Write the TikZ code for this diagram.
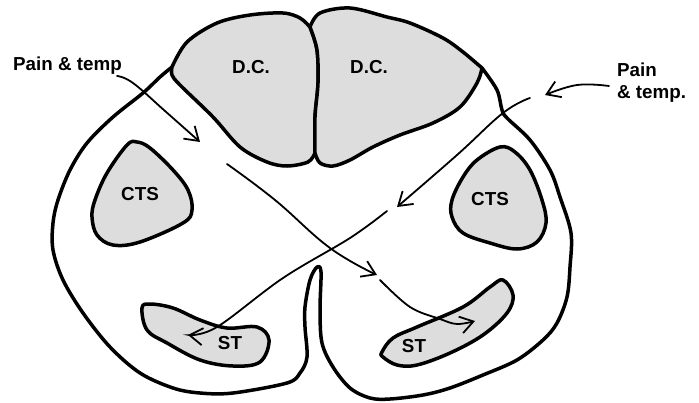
\documentclass[tikz,border=0pt]{standalone}
\usepackage{fontspec}
\setmainfont{Liberation Sans}
\usetikzlibrary{arrows.meta}
\definecolor{tract}{gray}{0.865}
\tikzset{
  contour/.style={draw=black,line width=3.5pt,line join=round,line cap=round},
  region/.style={contour,fill=tract},
  pathway/.style={draw=black,line width=1.8pt,line cap=round,-{Straight Barb[length=13pt,width=17pt,line width=1.8pt]}},
  caption/.style={font=\fontsize{18.8}{22}\selectfont\bfseries,inner sep=0pt,text=black}
}
\begin{document}
\begin{tikzpicture}[x=1pt,y=-1pt]
\useasboundingbox (0,0) rectangle (699,402);

% Cord outline, from the left dorsal corner round to the right one
\draw[contour] plot[smooth,tension=0.55] coordinates {
  (172,67) (160,77) (143,93) (113,117) (87,143) (70,170) (58,200) (53,223) (53,250) (63,280)
  (83,313) (110,347) (140,373) (173,388) (200,393) (233,393) (287,383) (300,373) (307,357)
  (305,327) (305,307) (310,280) (317,267)  (321,272) (320,310) (322,343) (333,367) (350,388)
  (370,398) (390,399) (423,395) (450,388) (483,375) (517,360) (543,340) (557,323) (567,297)
  (570,267) (571,233) (560,197) (550,170) (530,140) (507,118) (502,110) (497,90) (482,68)};

% Dorsal columns
\path[region] plot[smooth,tension=0.55] coordinates {
  (172,67) (187,42) (217,23) (250,15) (283,13) (300,18) (310,27)}
  -- plot[smooth,tension=0.55] coordinates {(310,27) (317,50) (318,83) (315,117) (315,153)}
  -- plot[smooth,tension=0.55] coordinates {
  (315,153) (308,162) (287,166) (267,162) (240,147) (213,117) (180,85) (172,75) (172,67)} -- cycle;
\path[region] plot[smooth,tension=0.55] coordinates {
  (310,27) (320,13) (350,8) (387,17) (410,23) (443,38) (463,52) (482,68)}
  -- plot[smooth,tension=0.55] coordinates {
  (482,68) (477,83) (460,107) (433,123) (400,135) (373,147) (350,160) (333,166) (320,163) (315,153)}
  -- plot[smooth,tension=0.55] coordinates {(315,153) (315,117) (318,83) (317,50) (310,27)} -- cycle;

% Cerebellar tracts
\path[region] plot[smooth cycle,tension=0.6] coordinates {
  (137,142) (127,145) (107,173) (95,200) (92,217) (97,235) (113,245) (140,242)
  (183,223) (192,210) (188,190) (173,170) (150,148)};
\path[region] plot[smooth cycle,tension=0.6] coordinates {
  (500,147) (477,160) (463,177) (452,200) (452,217) (463,233) (490,243) (517,249)
  (537,242) (546,223) (542,200) (530,170) (515,152)};

% Spinothalamic tracts
\path[region] plot[smooth cycle,tension=0.6] coordinates {
  (142,308) (150,304) (173,308) (200,320) (227,328) (257,327) (269,340) (260,362)
  (233,366) (200,360) (167,343) (147,330)};
\path[region] plot[smooth cycle,tension=0.6] coordinates {
  (382,352) (393,338) (417,327) (463,307) (490,287) (503,280) (513,295) (507,313)
  (483,335) (450,353) (417,365) (397,365) (383,357)};

% Labels
\node[caption,anchor=base west] (painleft) at (13,70.5) {Pain \& temp};
\node[caption,anchor=base west] (painright) at (617,76) {Pain};
\node[caption,anchor=base west] (tempright) at (617,98.5) {\& temp.};
\node[caption] (dcleft) at (251,67) {D.C.};
\node[caption] (dcright) at (369,67) {D.C.};
\node[caption] (ctsleft) at (140,194) {CTS};
\node[caption] (ctsright) at (490,199) {CTS};
\node[caption] (stleft) at (230,343) {ST};
\node[caption] (stright) at (414,346) {ST};

% Crossing pain and temperature fibres
\path[pathway] plot[smooth,tension=0.7] coordinates {(117,76) (133,83) (165,111) (200,142)};
\path[pathway] plot[smooth,tension=0.7] coordinates {(227,164) (275,200) (330,248) (377,275)};
\path[pathway] plot[smooth,tension=0.6] coordinates {(380,280) (410,307) (440,319) (457,324) (475,321)};
\path[pathway] plot[smooth,tension=0.7] coordinates {(530,98) (503,113) (457,155) (397,207)};
\path[pathway] plot[smooth,tension=0.6] coordinates {(387,211) (350,238) (283,278) (217,327) (188,335)};
\path[pathway] plot[smooth,tension=0.7] coordinates {(609,86) (577,85) (545,95)};
\end{tikzpicture}
\end{document}
